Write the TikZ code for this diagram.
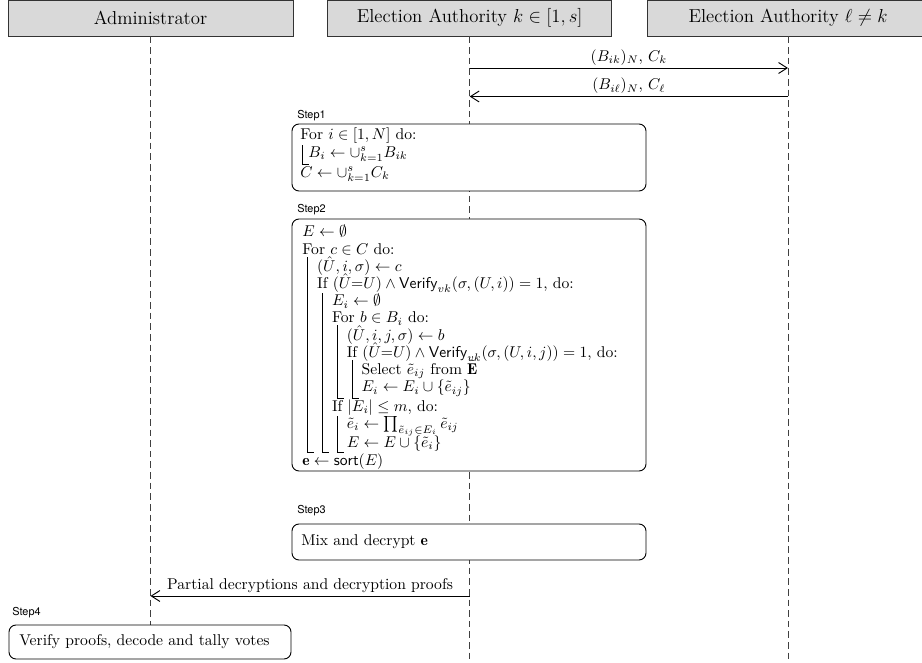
\documentclass[tikz,border=0pt]{standalone}
\usepackage{fontspec}
\newfontfamily\labelfont{TeX Gyre Heros}
\usetikzlibrary{arrows.meta,fit,calc}
\newcommand\mystrut{\vrule height 7.9pt depth 3.1pt width 0pt}
\newdimen\algdp
\newcommand\algbar{\kern3.2pt\vrule width .6pt\kern5.7pt}
\newcommand\alghook{\kern3.2pt\vrule width .6pt\kern-.6pt\rlap{\lower\algdp\hbox{\vrule width 4.4pt height .65pt depth 0pt}}\kern.6pt\kern5.7pt}
\newcommand\alghookS{\kern1pt\vrule width .6pt\kern-.6pt\rlap{\lower\algdp\hbox{\vrule width 4.4pt height .65pt depth 0pt}}\kern.6pt\kern3.6pt}
\newcommand\alglineX[3]{\setbox0\hbox{\mystrut #3}\algdp=\dimexpr3.1pt+#1\relax\dp0=\algdp\hbox{#2\box0}\kern#1}
\newcommand\algline[2]{\alglineX{0pt}{#1}{#2}}
\newcommand\algsetup{\baselineskip=11pt\lineskip=0pt\lineskiplimit=-\maxdimen}
\begin{document}
\begin{tikzpicture}[x=0.64pt,y=-0.64pt,
  header/.style={draw=black!80, fill=black!15, line width=0.6pt, inner sep=0pt, minimum height=23.04pt, font=\large},
  life/.style={draw=black!75, line width=0.6pt, dash pattern=on 4.2pt off 2.6pt},
  stepbox/.style={draw=black, fill=white, line width=0.6pt, rounded corners=4.5pt, inner sep=0pt},
  steplabel/.style={font=\labelfont\fontsize{7}{8}\selectfont, inner sep=0pt, anchor=west},
  msg/.style={draw=black, line width=0.6pt, -{Straight Barb[length=5.5pt,width=7pt]}},
  msglabel/.style={inner sep=1.5pt, anchor=south},
  algtext/.style={inner sep=0pt, anchor=base west}]
\useasboundingbox (0,0) rectangle (922,663);

% headers
\node[header, minimum width=182.4pt] (adm) at (150.5,18) {Administrator};
\node[header, minimum width=181.8pt] (ea) at (469.7,18) {Election Authority $k\in[1,s]$};
\node[header, minimum width=180.5pt] (eb) at (788,18) {Election Authority $\ell \neq k$};

% lifelines
\coordinate (admEnd) at (150.5,663);
\coordinate (eaEnd) at (469.7,663);
\coordinate (ebEnd) at (788,663);
\draw[life] (adm.south) -- (admEnd);
\draw[life] (ea.south) -- (eaEnd);
\draw[life] (eb.south) -- (ebEnd);

% messages between authorities
\coordinate (m1a) at (469.7,68);
\coordinate (m1b) at (788,68);
\coordinate (m2a) at (788,96.5);
\coordinate (m2b) at (469.7,96.5);
\draw[msg] (m1a) -- node[msglabel] (m1l) {$(B_{ik})_N$, $C_k$} (m1b);
\draw[msg] (m2a) -- node[msglabel] (m2l) {$(B_{i\ell})_N$, $C_\ell$} (m2b);

% Step 1
\node[steplabel] (l1) at (297,116) {Step1};
\node[stepbox, fit={(292,124) (646,191)}] (s1) {};
\node[algtext] (t1) at (300,140) {\vtop{\algsetup
  \algline{}{For $i\in[1,N]$ do:}
  \alglineX{1.9pt}{\alghookS}{$B_i \leftarrow \cup_{k=1}^{s} B_{ik}$}
  \algline{}{$C \leftarrow \cup_{k=1}^{s} C_k$}}};

% Step 2
\node[steplabel] (l2) at (297,210) {Step2};
\node[stepbox, fit={(292,219) (646,471)}] (s2) {};
\node[algtext] (t2) at (302,237) {\vtop{\algsetup
  \algline{}{$E \leftarrow \emptyset$}
  \algline{}{For $c \in C$ do:}
  \algline{\algbar}{$(\hat{U}, i, \sigma) \leftarrow c$}
  \algline{\algbar}{If $(\hat{U}{=}U) \wedge \mathsf{Verify}_{vk}(\sigma,(U,i)) = 1$, do:}
  \algline{\algbar\algbar}{$E_i \leftarrow \emptyset$}
  \algline{\algbar\algbar}{For $b \in B_i$ do:}
  \algline{\algbar\algbar\algbar}{$(\hat{U}, i, j, \sigma) \leftarrow b$}
  \algline{\algbar\algbar\algbar}{If $(\hat{U}{=}U) \wedge \mathsf{Verify}_{vk}(\sigma,(U,i,j)) = 1$, do:}
  \algline{\algbar\algbar\algbar\algbar}{Select $\tilde{e}_{ij}$ from $\tilde{\mathbf{E}}$}
  \alglineX{1.5pt}{\algbar\algbar\alghook\alghook}{$E_i \leftarrow E_i \cup \{\tilde{e}_{ij}\}$}
  \algline{\algbar\algbar}{If $|E_i| \leq m$, do:}
  \alglineX{1.2pt}{\algbar\algbar\algbar}{$\tilde{e}_i \leftarrow \prod_{\tilde{e}_{ij}\in E_i} \tilde{e}_{ij}$}
  \alglineX{0.4pt}{\alghook\alghook\alghook}{$E \leftarrow E \cup \{\tilde{e}_i\}$}
  \algline{}{$\mathbf{e} \leftarrow \mathsf{sort}(E)$}}};

% Step 3
\node[steplabel] (l3) at (297,511) {Step3};
\node[stepbox, fit={(292,524) (646,560)}] (s3) {};
\node[inner sep=0pt, anchor=west] (t3) at (301,542) {Mix and decrypt $\mathbf{e}$};

% message to administrator
\coordinate (m3a) at (469.7,596);
\coordinate (m3b) at (150.5,596);
\draw[msg] (m3a) -- node[msglabel] (m3l) {Partial decryptions and decryption proofs} (m3b);

% Step 4
\node[steplabel] (l4) at (12,613) {Step4};
\node[stepbox, fit={(9,625) (291,659)}] (s4) {};
\node[inner sep=0pt, anchor=west] (t4) at (19,642) {Verify proofs, decode and tally votes};
\end{tikzpicture}
\end{document}
